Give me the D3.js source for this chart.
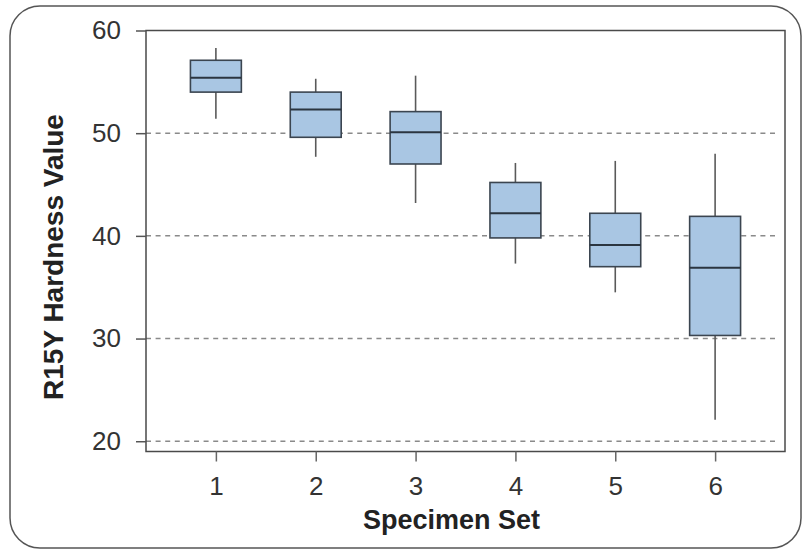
<!DOCTYPE html>
<html>
<head>
<meta charset="utf-8">
<script src="https://cdn.jsdelivr.net/npm/d3@7"></script>
<style>
  html, body { margin: 0; padding: 0; background: #fff; }
  svg { display: block; }
  .tick text { font-family: "Liberation Sans", Arial, sans-serif; fill: #333; }
</style>
</head>
<body>
<svg id="chart" width="804" height="550"></svg>
<script>
// Specimen sets and five-number summaries of R15Y hardness
const categories   = [1, 2, 3, 4, 5, 6];
const whiskerLow   = [51.4, 47.7, 43.2, 37.3, 34.5, 22.1];
const quartile1    = [54.0, 49.6, 47.0, 39.8, 37.0, 30.3];
const medians      = [55.4, 52.3, 50.1, 42.2, 39.1, 36.9];
const quartile3    = [57.1, 54.0, 52.1, 45.2, 42.2, 41.9];
const whiskerHigh  = [58.3, 55.3, 55.6, 47.1, 47.3, 48.0];
const yTicks       = [20, 30, 40, 50, 60];
const gridValues   = [20, 30, 40, 50];

const boxes = categories.map((c, i) => ({
  set: c, lo: whiskerLow[i], q1: quartile1[i], med: medians[i],
  q3: quartile3[i], hi: whiskerHigh[i]
}));

const svg = d3.select("#chart");
const plot = { left: 146, right: 785, top: 30.5, bottom: 451.5 };

const x = d3.scaleLinear().domain([0.3, 6.7]).range([plot.left, plot.right]);
const y = d3.scaleLinear().domain([19, 60]).range([plot.bottom, plot.top]);
const boxW = x(1.255) - x(0.745);

// rounded frame around the whole figure
svg.append("rect")
  .attr("x", 10).attr("y", 6).attr("width", 791).attr("height", 542)
  .attr("rx", 30).attr("ry", 30)
  .attr("fill", "none").attr("stroke", "#555").attr("stroke-width", 1.5);

// dashed reference lines
svg.append("g").selectAll("line").data(gridValues).join("line")
  .attr("x1", plot.left).attr("x2", plot.right - 6)
  .attr("y1", d => y(d)).attr("y2", d => y(d))
  .attr("stroke", "#8a8a8a").attr("stroke-width", 1.5)
  .attr("stroke-dasharray", "5,4.6");

// whiskers
const g = svg.append("g");
g.selectAll("line.whisker").data(boxes).join("line")
  .attr("class", "whisker")
  .attr("x1", d => x(d.set)).attr("x2", d => x(d.set))
  .attr("y1", d => y(d.lo)).attr("y2", d => y(d.hi))
  .attr("stroke", "#5a5a5a").attr("stroke-width", 1.6);

// interquartile boxes
g.selectAll("rect.box").data(boxes).join("rect")
  .attr("class", "box")
  .attr("x", d => x(d.set) - boxW / 2)
  .attr("width", boxW)
  .attr("y", d => y(d.q3))
  .attr("height", d => y(d.q1) - y(d.q3))
  .attr("fill", "#a9c6e3").attr("stroke", "#3b4550").attr("stroke-width", 1.6);

// medians
g.selectAll("line.median").data(boxes).join("line")
  .attr("class", "median")
  .attr("x1", d => x(d.set) - boxW / 2).attr("x2", d => x(d.set) + boxW / 2)
  .attr("y1", d => y(d.med)).attr("y2", d => y(d.med))
  .attr("stroke", "#2b3540").attr("stroke-width", 2);

// plot frame
svg.append("rect")
  .attr("x", plot.left).attr("y", plot.top)
  .attr("width", plot.right - plot.left).attr("height", plot.bottom - plot.top)
  .attr("fill", "none").attr("stroke", "#4a4a4a").attr("stroke-width", 1.5);

// axes
const yAxis = d3.axisLeft(y).tickValues(yTicks).tickSize(10).tickPadding(15);
const yG = svg.append("g").attr("transform", `translate(${plot.left},0)`).call(yAxis);
yG.select(".domain").remove();
yG.selectAll(".tick line").attr("stroke", "#555").attr("stroke-width", 1.5);
yG.selectAll(".tick text").attr("font-size", 26);

const xAxis = d3.axisBottom(x).tickValues(categories).tickSize(10).tickPadding(15)
  .tickFormat(d3.format("d"));
const xG = svg.append("g").attr("transform", `translate(0,${plot.bottom})`).call(xAxis);
xG.select(".domain").remove();
xG.selectAll(".tick line").attr("stroke", "#666").attr("stroke-width", 1.5);
xG.selectAll(".tick text").attr("font-size", 26);

// axis titles
svg.append("text")
  .attr("x", 451.5).attr("y", 529)
  .attr("text-anchor", "middle")
  .attr("font-family", "Liberation Sans, Arial, sans-serif")
  .attr("font-weight", "bold").attr("font-size", 27).attr("fill", "#222")
  .text("Specimen Set");

svg.append("text")
  .attr("transform", "translate(63,257) rotate(-90)")
  .attr("text-anchor", "middle")
  .attr("font-family", "Liberation Sans, Arial, sans-serif")
  .attr("font-weight", "bold").attr("font-size", 28).attr("fill", "#222")
  .text("R15Y Hardness Value");
</script>
</body>
</html>
